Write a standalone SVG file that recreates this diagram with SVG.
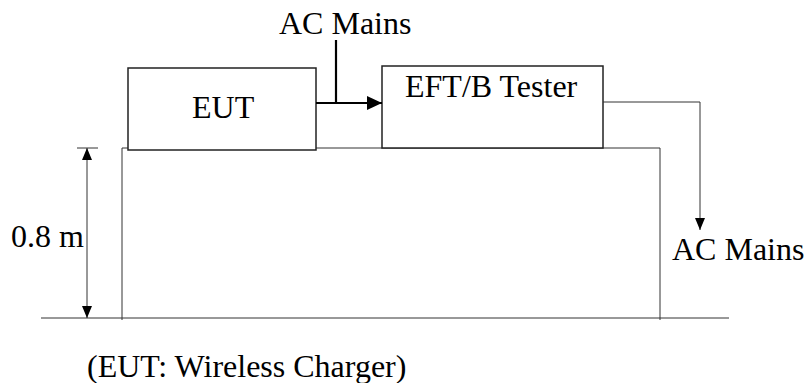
<svg xmlns="http://www.w3.org/2000/svg" width="805" height="383" viewBox="0 0 805 383">
<style>
text{font-family:"Liberation Serif","Times New Roman",serif;font-size:32px;fill:#000}
.box{fill:#fff;stroke:#222;stroke-width:1.5}
.thin{fill:none;stroke:#333;stroke-width:1}
.thick{fill:none;stroke:#000;stroke-width:2.2}
</style>
<defs>
<marker id="big" markerWidth="16" markerHeight="14" refX="15" refY="7" orient="auto" markerUnits="userSpaceOnUse"><path d="M0,0 L15,7 L0,14 Z" fill="#000"/></marker>
<marker id="sm" markerWidth="12" markerHeight="12" refX="12" refY="5" orient="auto-start-reverse" markerUnits="userSpaceOnUse"><path d="M0,0 L12,5 L0,10 Z" fill="#000"/></marker>
</defs>
<rect width="805" height="383" fill="#fff"/>
<g id="table">
<path class="thin" d="M122,320 V148 H660 V320"/>
</g>
<g id="ground">
<line class="thin" x1="41" y1="318" x2="729" y2="318" stroke="#555"/>
</g>
<g id="eut">
<rect class="box" x="128" y="68" width="188" height="82"/>
<text x="192" y="118">EUT</text>
</g>
<g id="tester">
<rect class="box" x="382" y="66" width="221" height="82"/>
<text x="405" y="97">EFT/B Tester</text>
</g>
<g id="connectors">
<line class="thick" x1="316" y1="103" x2="382" y2="103" marker-end="url(#big)"/>
<line class="thick" x1="336" y1="40" x2="336" y2="103"/>
<path class="thin" d="M603,102 H700 V230" marker-end="url(#sm)"/>
<line class="thin" x1="87" y1="148" x2="87" y2="318" marker-start="url(#sm)" marker-end="url(#sm)"/>
<line class="thin" x1="77" y1="148" x2="98" y2="148"/>
</g>
<g id="labels">
<text x="279" y="34">AC Mains</text>
<text x="672" y="260">AC Mains</text>
<text x="11" y="247">0.8 m</text>
<text x="87" y="377">(EUT: Wireless Charger)</text>
</g>
</svg>
